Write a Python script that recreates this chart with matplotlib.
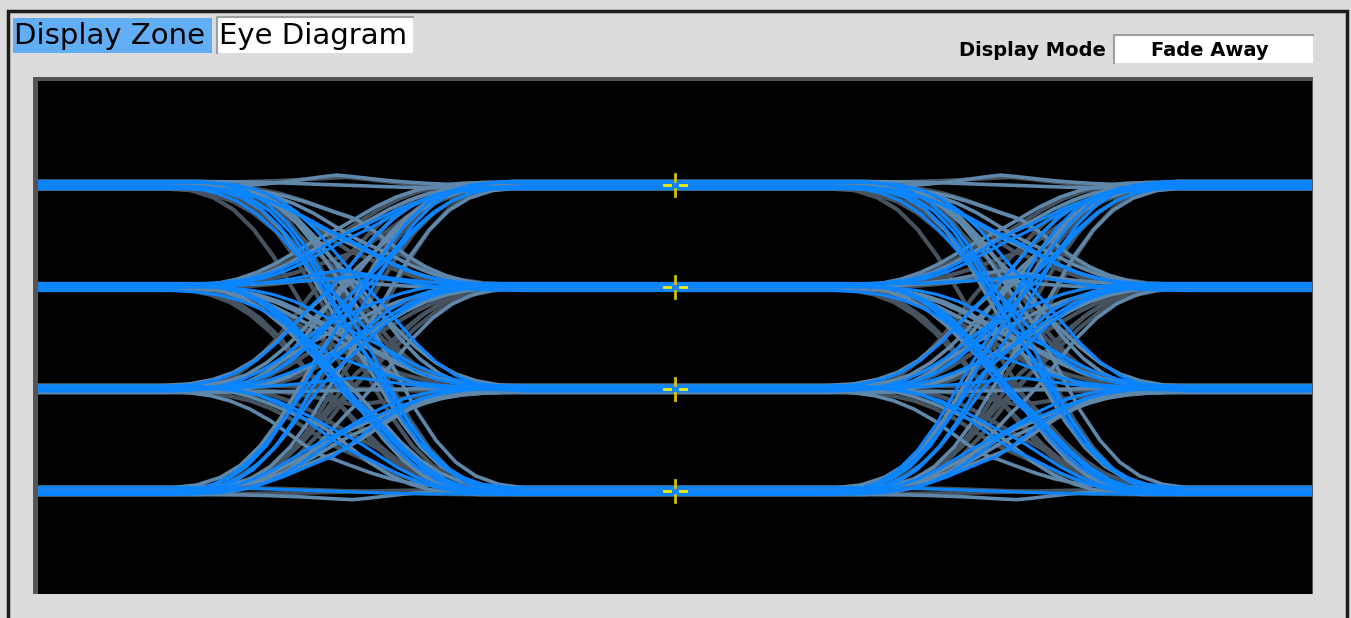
import matplotlib
matplotlib.use("Agg")
import matplotlib.pyplot as plt
from matplotlib.patches import Rectangle

W, H = 1351, 618

# PAM4 symbol stream captured by the scope (0..3)
SYMBOLS = [3, 0, 2, 1, 1, 3, 2, 0, 0, 3, 1, 2, 3, 3, 0, 1, 0, 2, 2, 3,
           1, 0, 3, 2, 1, 3, 0, 0, 2, 0, 3, 1, 1, 2, 0, 1, 3, 3, 2, 2,
           1, 0, 0, 3, 3, 1, 2, 1, 3, 2, 3, 0, 1, 2, 0, 2, 3, 1, 0, 1,
           1, 3, 0, 3, 2, 1, 2, 2, 0, 3, 0, 1, 3, 1, 0, 2, 3, 0, 3, 1,
           2, 0, 1, 1, 2, 3, 2, 0, 2, 1, 3, 0, 0, 1, 3, 2, 2, 1, 0, 3]
LEVELS = [-3.0, -1.0, 1.0, 3.0]

# edge shape (time in UI around the crossing)
STEP_T = [-0.24, -0.20, -0.165, -0.135, -0.105, -0.075, -0.048, -0.024, 0.0,
          0.024, 0.048, 0.075, 0.105, 0.135, 0.165, 0.20, 0.24]
STEP_V = [0.0, 0.01, 0.035, 0.075, 0.14, 0.23, 0.33, 0.42, 0.5,
          0.58, 0.67, 0.77, 0.86, 0.925, 0.965, 0.99, 1.0]
BUMP_V = [0.0, 0.03, 0.08, 0.17, 0.30, 0.47, 0.67, 0.85, 1.0,
          0.85, 0.67, 0.47, 0.30, 0.17, 0.08, 0.03, 0.0]

# per-edge timing jitter (UI), per-symbol level noise, per-edge ISI hump
JITTER = [0.0, 0.02, -0.015, 0.03, -0.025, 0.01, -0.035, 0.015, 0.025,
          -0.01, 0.035, -0.02, 0.005, -0.03, 0.02, -0.005, 0.012]
LEVEL_NOISE = [0.0, 0.05, -0.04, 0.07, -0.06, 0.02, -0.02, 0.06, -0.07, 0.03, -0.05]
HUMP = [0.0, 0.3, -0.15, 0.0, 0.22, -0.3, 0.1, 0.0, -0.2, 0.35, 0.0, -0.1, 0.15]

# fade away: oldest traces dim, newest bright
FADE_COLORS = ["#46525d", "#5f87aa", "#0a84ff"]
FADE_WIDTHS = [3.0, 2.6, 2.2]

T_MIN, T_MAX = -0.4593, 1.4593
Y_MIN, Y_MAX = -5.02, 5.04


def fx(px):
    return px / W


def fy(py):
    return 1 - py / H


def level(i):
    return LEVELS[SYMBOLS[i]] + LEVEL_NOISE[i % len(LEVEL_NOISE)]


def edge_points(e, t0, v_from, v_to):
    j = JITTER[e % len(JITTER)]
    h = HUMP[e % len(HUMP)]
    ts = [t0 + t + j for t in STEP_T]
    vs = [v_from + (v_to - v_from) * s + h * b for s, b in zip(STEP_V, BUMP_V)]
    return ts, vs


fig = plt.figure(figsize=(W / 100, H / 100), dpi=100)
fig.patch.set_facecolor("#dcdcde")

# outer frame
fig.add_artist(Rectangle((fx(8), fy(640)), fx(1339), fy(11) - fy(640),
                         transform=fig.transFigure, fill=False,
                         edgecolor="#1c1c1c", lw=2.5, zorder=0))
# sunken bevel of the display
fig.add_artist(Rectangle((fx(33), fy(594)), fx(1280), fy(77) - fy(594),
                         transform=fig.transFigure, facecolor="#555555",
                         edgecolor="none", zorder=0))

# tab header
fig.add_artist(Rectangle((fx(13), fy(53)), fx(199), fy(18) - fy(53),
                         transform=fig.transFigure, facecolor="#62aef5",
                         edgecolor="none"))
fig.add_artist(Rectangle((fx(216), fy(53)), fx(197), fy(16) - fy(53),
                         transform=fig.transFigure, facecolor="white",
                         edgecolor="none"))
fig.add_artist(plt.Line2D([fx(217), fx(217), fx(413)], [fy(53), fy(16.5), fy(16.5)],
                          transform=fig.transFigure, color="#a0a0a0", lw=1.5))
fig.text(fx(14), fy(36), "Display Zone", fontsize=21, va="center", ha="left",
         color="black")
fig.text(fx(219), fy(36), "Eye Diagram", fontsize=21, va="center", ha="left",
         color="black")

# display mode box
fig.text(fx(1106), fy(50), "Display Mode", fontsize=14, fontweight="bold",
         va="center", ha="right", color="black")
fig.add_artist(Rectangle((fx(1113), fy(63)), fx(200), fy(34) - fy(63),
                         transform=fig.transFigure, facecolor="white",
                         edgecolor="none"))
fig.add_artist(plt.Line2D([fx(1113.5), fx(1113.5), fx(1313)], [fy(63), fy(34.5), fy(34.5)],
                          transform=fig.transFigure, color="#a0a0a0", lw=1.5))
fig.text(fx(1210), fy(50), "Fade Away", fontsize=14, fontweight="bold",
         va="center", ha="center", color="black")

ax = fig.add_axes([fx(38), fy(594), fx(1312) - fx(38), fy(81) - fy(594)])
ax.set_zorder(3)
ax.set_facecolor("black")
ax.set_xlim(T_MIN, T_MAX)
ax.set_ylim(Y_MIN, Y_MAX)
ax.set_xticks([])
ax.set_yticks([])
for sp in ax.spines.values():
    sp.set_visible(False)

n_traces = len(SYMBOLS) - 2
for k in range(n_traces):
    v0, v1, v2 = level(k), level(k + 1), level(k + 2)
    ta, va = edge_points(k, 0.0, v0, v1)
    tb, vb = edge_points(k + 1, 1.0, v1, v2)
    ts = [T_MIN - 0.01] + ta + tb + [T_MAX + 0.01]
    vs = [v0] + va + vb + [v2]
    age = min(2, k * 3 // n_traces)
    ax.plot(ts, vs, color=FADE_COLORS[age], lw=FADE_WIDTHS[age],
            solid_capstyle="butt", zorder=2 + k * 0.01)

# yellow decision markers at the eye centre
for lv in LEVELS:
    ax.plot([0.5, 0.5], [lv + 0.08, lv + 0.22], color="#d2c200", lw=2, zorder=5)
    ax.plot([0.5, 0.5], [lv - 0.08, lv - 0.22], color="#d2c200", lw=2, zorder=5)
    ax.plot([0.5 - 0.0166, 0.5 - 0.0075], [lv, lv], color="#f2f000", lw=2, zorder=5)
    ax.plot([0.5 + 0.0075, 0.5 + 0.0166], [lv, lv], color="#f2f000", lw=2, zorder=5)

fig.savefig("out.png", dpi=100, facecolor=fig.get_facecolor())
